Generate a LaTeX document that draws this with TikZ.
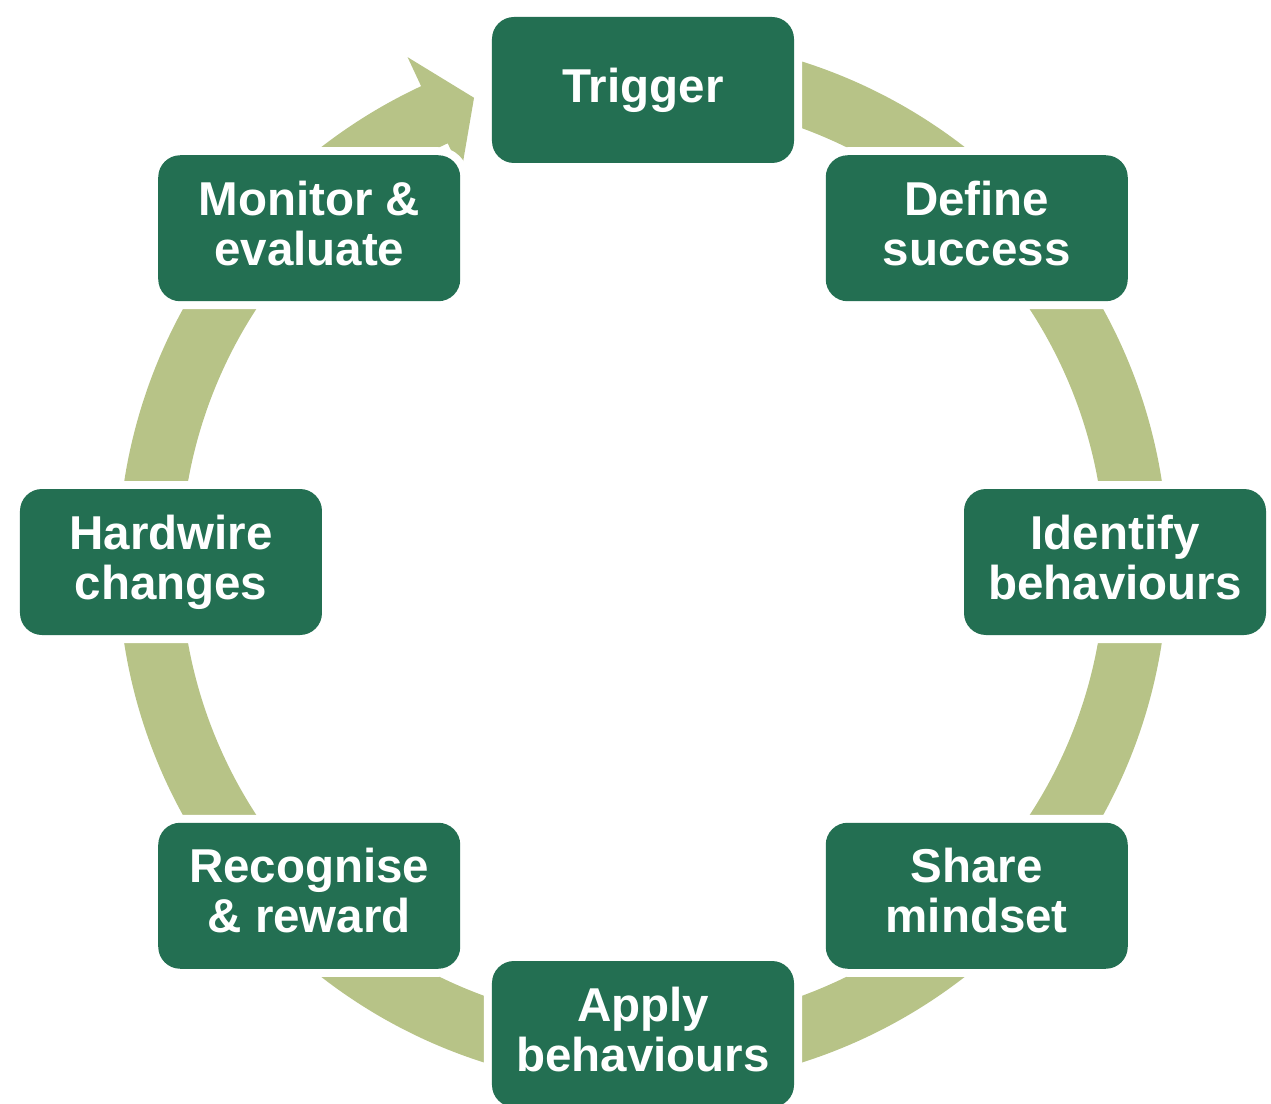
\documentclass[tikz,border=0pt]{standalone}
\usepackage{fontspec}
\setmainfont{Liberation Sans}
\definecolor{nodegreen}{HTML}{236F52}
\definecolor{ringgreen}{HTML}{B7C387}
\newcommand\lnstrut{\rule[-10pt]{0pt}{43pt}}
\begin{document}
\begin{tikzpicture}[x=1pt,y=1pt,
  stepbox/.style={fill=nodegreen, rounded corners=22pt, minimum width=302pt,
    minimum height=146pt, inner sep=0pt, text=white, align=center,
    font=\bfseries\fontsize{47.5}{50}\selectfont,
    preaction={draw=white, line width=16pt}},
  ring/.style={fill=ringgreen}]
\useasboundingbox (-643,-541) rectangle (628,562);
% circular arrow ring
\fill[ring] (88:525pt) arc[start angle=88, end angle=-245, radius=525pt]
  -- (-245:557pt) -- (-250:494pt) -- (-245:430pt) -- (-245:462pt)
  arc[start angle=-245, end angle=88, radius=462pt] -- cycle;
% steps
\node[stepbox] (trigger)   at (90:472pt)  {\lnstrut Trigger};
\node[stepbox] (define)    at (45:472pt)  {\lnstrut Define\\\lnstrut success};
\node[stepbox] (identify)  at (0:472pt)   {\lnstrut Identify\\\lnstrut behaviours};
\node[stepbox] (share)     at (-45:472pt) {\lnstrut Share\\\lnstrut mindset};
\node[stepbox] (apply)     at (-90:472pt) {\lnstrut Apply\\\lnstrut behaviours};
\node[stepbox] (recognise) at (-135:472pt){\lnstrut Recognise\\\lnstrut \& reward};
\node[stepbox] (hardwire)  at (180:472pt) {\lnstrut Hardwire\\\lnstrut changes};
\node[stepbox] (monitor)   at (135:472pt) {\lnstrut Monitor \&\\\lnstrut evaluate};
\end{tikzpicture}
\end{document}
